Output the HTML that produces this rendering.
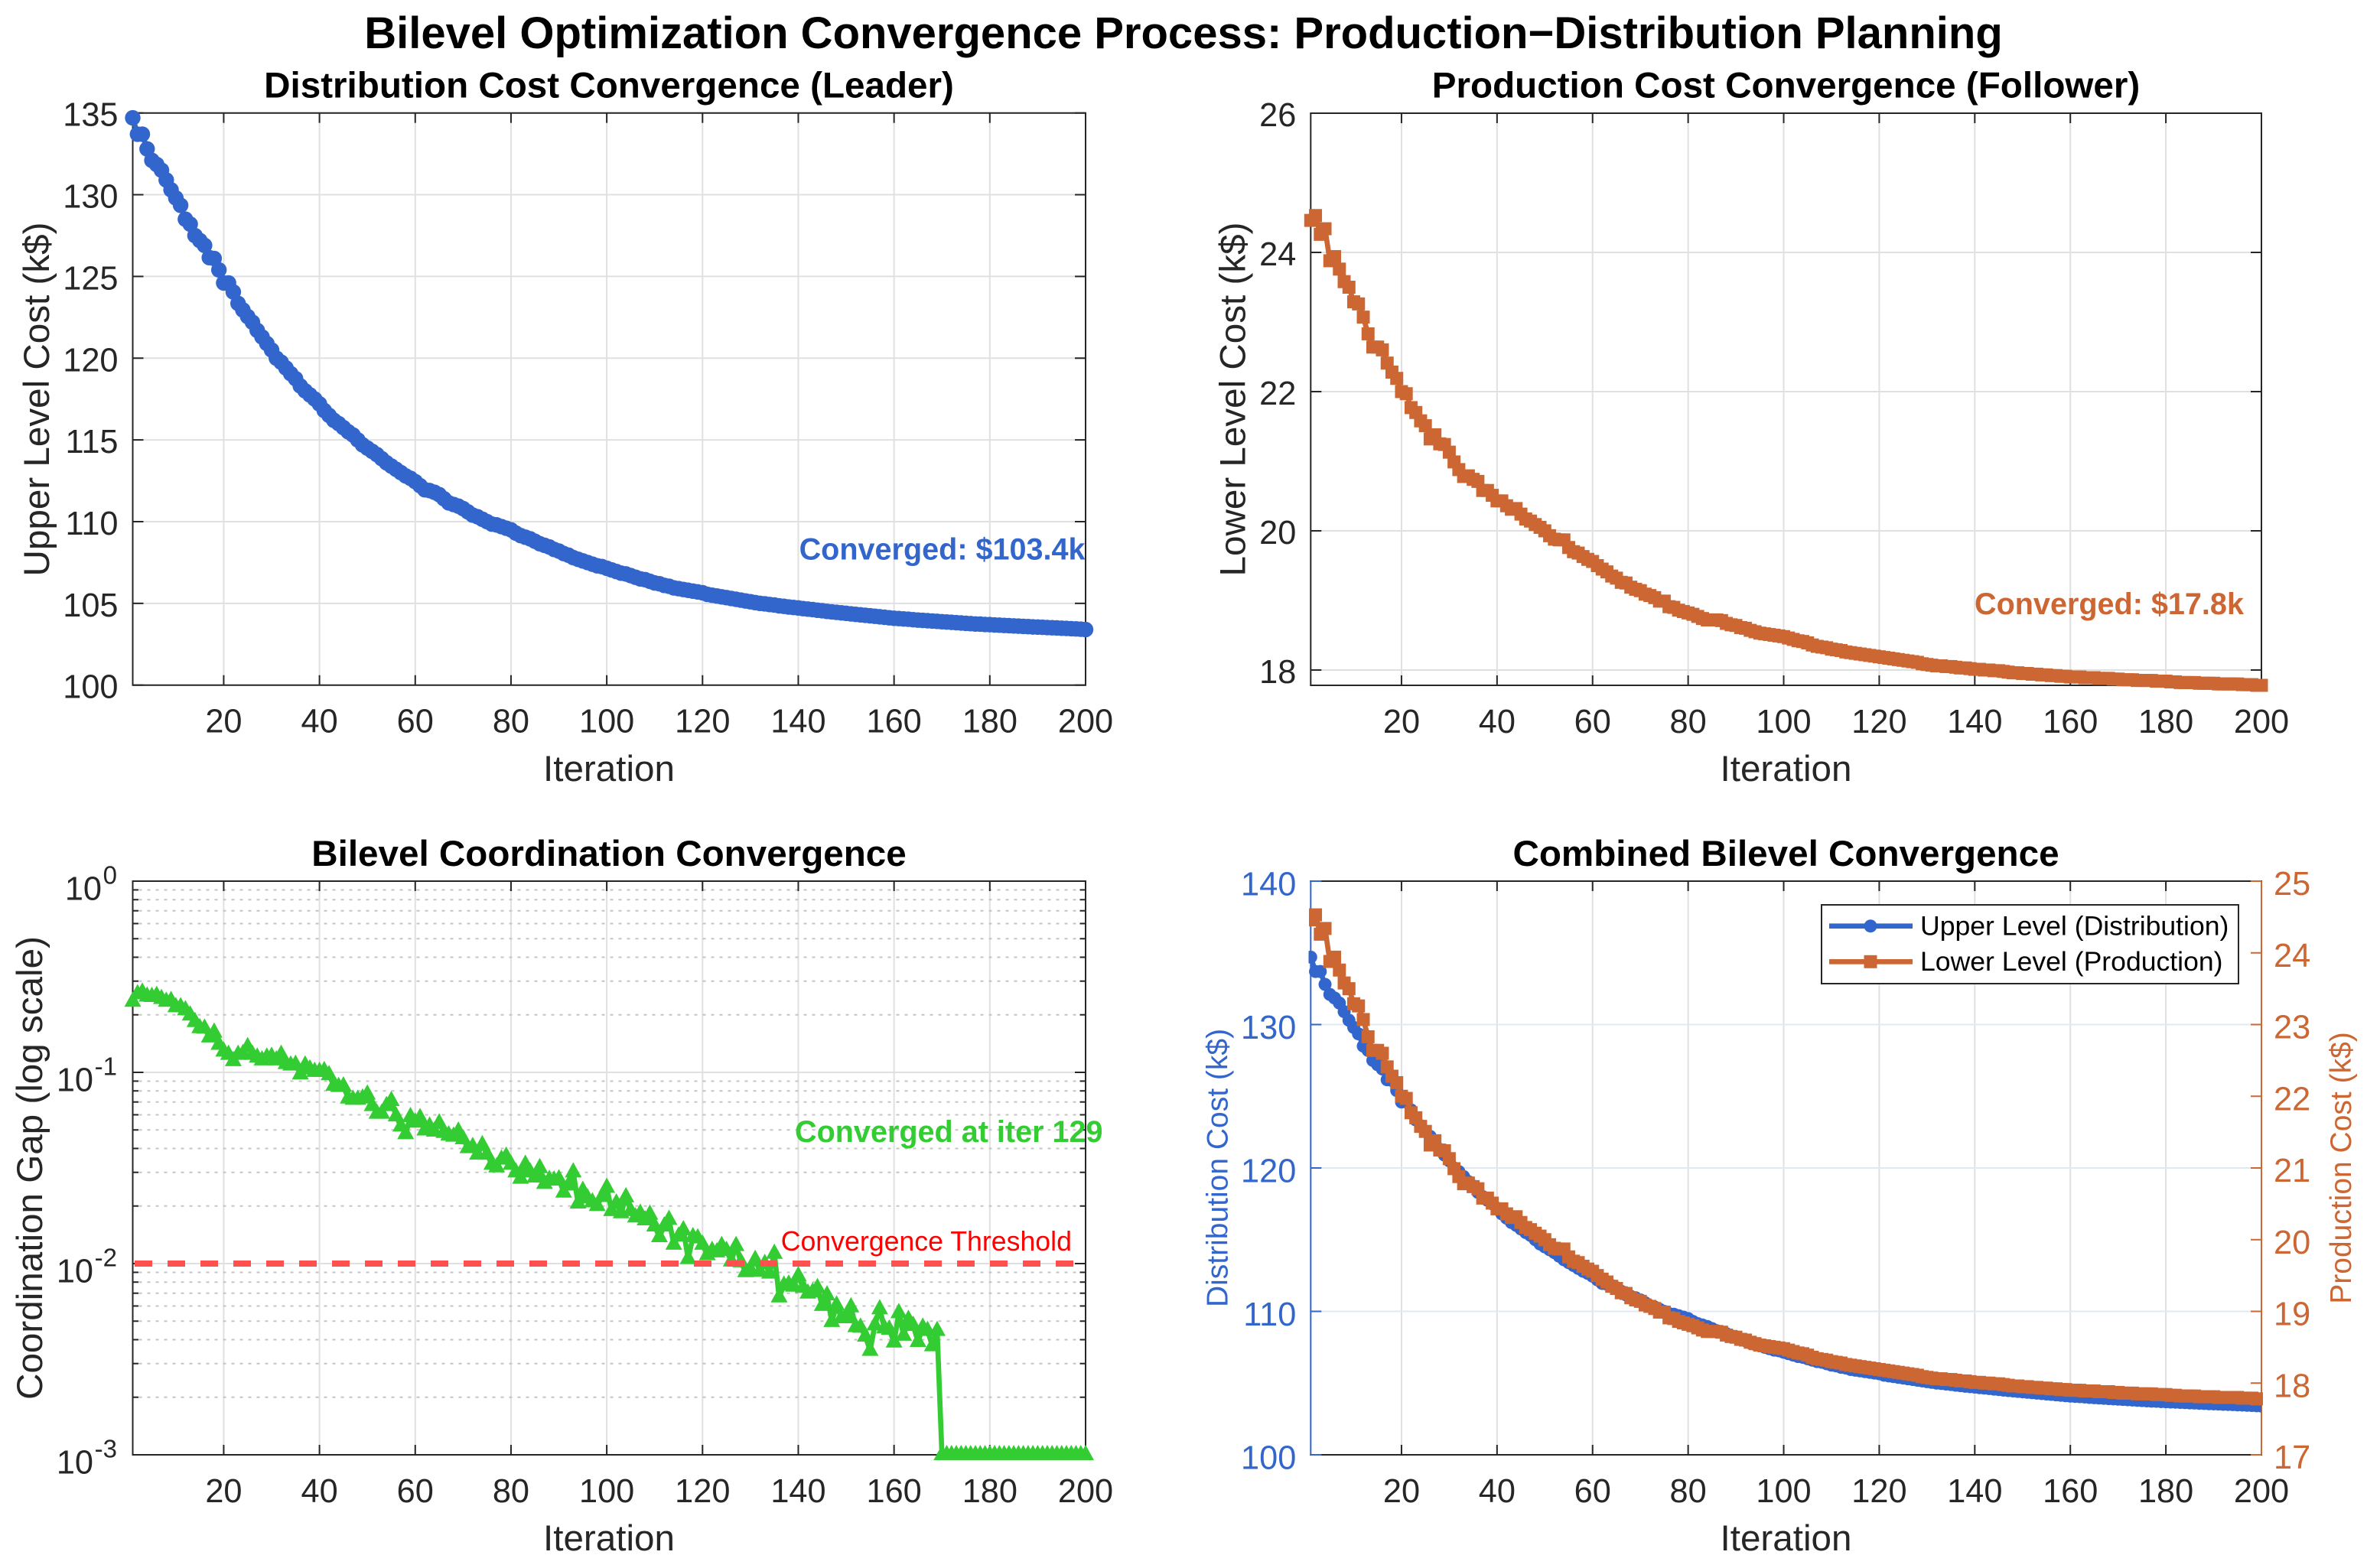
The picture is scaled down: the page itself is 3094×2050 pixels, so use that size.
<!DOCTYPE html>
<html lang="en">
<head>
<meta charset="utf-8">
<title>Bilevel Optimization Convergence Process</title>
<style>
html,body{margin:0;padding:0;background:#fff;}
svg{display:block;font-family:"Liberation Sans",Arial,sans-serif;}
text{white-space:pre;}
</style>
</head>
<body>
<svg id="chart" xmlns="http://www.w3.org/2000/svg" width="3094" height="2050" viewBox="0 0 3094 2050">
<rect x="0" y="0" width="3094" height="2050" fill="#fff"/>
<defs>
<clipPath id="clip-upper-combined"><rect x="1710.5" y="1100" width="1245.5" height="850"/></clipPath>
<clipPath id="clip-lower-combined"><rect x="1711" y="1100" width="1247" height="850"/></clipPath>
</defs>
<g id="layer"></g>
<text x="1547" y="63" font-size="58" font-weight="700" text-anchor="middle" fill="#000">Bilevel Optimization Convergence Process: Production−Distribution Planning</text>
<text x="796" y="127.5" font-size="47.6" font-weight="700" text-anchor="middle" fill="#000">Distribution Cost Convergence (Leader)</text>
<text x="2334.5" y="127.5" font-size="47.6" font-weight="700" text-anchor="middle" fill="#000">Production Cost Convergence (Follower)</text>
<text x="796" y="1132" font-size="47.6" font-weight="700" text-anchor="middle" fill="#000">Bilevel Coordination Convergence</text>
<text x="2334.5" y="1132" font-size="47.6" font-weight="700" text-anchor="middle" fill="#000">Combined Bilevel Convergence</text>
<text x="796" y="1021" font-size="47.6" text-anchor="middle" fill="#262626">Iteration</text>
<text x="2334.5" y="1021" font-size="47.6" text-anchor="middle" fill="#262626">Iteration</text>
<text x="796" y="2027" font-size="47.6" text-anchor="middle" fill="#262626">Iteration</text>
<text x="2334.5" y="2027" font-size="47.6" text-anchor="middle" fill="#262626">Iteration</text>
<text transform="translate(64,522) rotate(-90)" font-size="47.6" text-anchor="middle" fill="#262626">Upper Level Cost (k$)</text>
<text transform="translate(1627.5,522) rotate(-90)" font-size="47.6" text-anchor="middle" fill="#262626">Lower Level Cost (k$)</text>
<text transform="translate(55,1527) rotate(-90)" font-size="47.6" text-anchor="middle" fill="#262626">Coordination Gap (log scale)</text>
<text transform="translate(1604.6,1527) rotate(-90)" font-size="39" text-anchor="middle" fill="#3366cc">Distribution Cost (k$)</text>
<text transform="translate(3073,1527) rotate(-90)" font-size="39" text-anchor="middle" fill="#cc6633">Production Cost (k$)</text>
<g id="overlay"></g>
<text x="1044.6" y="731.7" font-size="39.6" font-weight="700" fill="#3366cc">Converged: $103.4k</text>
<text x="2581" y="803" font-size="39.6" font-weight="700" fill="#cc6633">Converged: $17.8k</text>
<text x="1039" y="1493" font-size="39.6" font-weight="700" fill="#33cc33">Converged at iter 129</text>
<text x="1020.7" y="1635" font-size="35.7" fill="#ff0000">Convergence Threshold</text>
<g>
<rect x="2381" y="1183" width="545" height="103" fill="#fff" stroke="#262626" stroke-width="2"/>
<line x1="2391" x2="2500" y1="1210.7" y2="1210.7" stroke="#3366cc" stroke-width="6.7"/>
<circle cx="2445" cy="1210.7" r="8.5" fill="#3366cc"/>
<text x="2510" y="1222.5" font-size="35.6" fill="#000">Upper Level (Distribution)</text>
<line x1="2391" x2="2500" y1="1257.3" y2="1257.3" stroke="#cc6633" stroke-width="6.7"/>
<rect x="2436.5" y="1248.8" width="17" height="17" fill="#cc6633"/>
<text x="2510" y="1269" font-size="35.6" fill="#000">Lower Level (Production)</text>
</g>
</svg>
<script>
const upperCost = [
134.7,133.7,133.7,132.8,132.1,131.85,131.5,130.9,130.3,129.8,
129.35,128.5,128.2,127.5,127.2,126.9,126.15,126.1,125.4,124.6,
124.6,124.05,123.35,122.95,122.55,122.2,121.7,121.3,120.9,120.5,
120.0,119.75,119.4,119.05,118.75,118.3,118.0,117.75,117.5,117.2,
116.8,116.5,116.2,116.0,115.75,115.5,115.3,115.0,114.7,114.5,
114.3,114.1,113.85,113.6,113.4,113.2,113.0,112.8,112.65,112.45,
112.2,111.95,111.9,111.8,111.65,111.4,111.15,111.05,110.95,110.8,
110.6,110.4,110.3,110.15,110.0,109.85,109.8,109.7,109.6,109.5,
109.3,109.15,109.05,108.95,108.8,108.65,108.55,108.45,108.3,108.2,
108.05,107.95,107.8,107.7,107.6,107.5,107.4,107.3,107.25,107.15,
107.05,106.95,106.85,106.8,106.7,106.6,106.5,106.45,106.35,106.25,
106.2,106.1,106.05,105.95,105.9,105.85,105.8,105.75,105.7,105.65,
105.55,105.5,105.45,105.4,105.35,105.3,105.25,105.2,105.15,105.1,
105.05,105.0,104.97,104.93,104.9,104.85,104.82,104.78,104.75,104.72,
104.68,104.65,104.62,104.58,104.55,104.51,104.48,104.45,104.42,104.39,
104.36,104.33,104.3,104.27,104.24,104.21,104.18,104.15,104.12,104.09,
104.07,104.05,104.03,104.0,103.98,103.96,103.94,103.92,103.9,103.88,
103.86,103.84,103.82,103.8,103.78,103.76,103.74,103.73,103.71,103.7,
103.68,103.67,103.65,103.64,103.62,103.61,103.59,103.58,103.56,103.55,
103.54,103.52,103.51,103.5,103.48,103.47,103.45,103.44,103.42,103.4];

const lowerCost = [
24.46,24.53,24.26,24.34,23.88,23.94,23.76,23.58,23.5,23.29,
23.26,23.07,22.83,22.64,22.64,22.6,22.41,22.28,22.19,22.0,
21.97,21.77,21.7,21.58,21.51,21.32,21.38,21.25,21.24,21.13,
20.99,20.88,20.78,20.79,20.74,20.71,20.58,20.58,20.51,20.43,
20.43,20.36,20.31,20.32,20.24,20.17,20.14,20.09,20.05,20.0,
19.93,19.88,19.87,19.87,19.76,19.7,19.68,19.63,19.59,19.56,
19.5,19.45,19.41,19.35,19.32,19.26,19.25,19.19,19.16,19.14,
19.09,19.07,19.04,18.99,18.99,18.91,18.9,18.86,18.84,18.82,
18.8,18.77,18.74,18.72,18.72,18.72,18.71,18.67,18.65,18.64,
18.61,18.6,18.57,18.55,18.53,18.52,18.51,18.5,18.49,18.48,
18.46,18.44,18.42,18.41,18.39,18.36,18.34,18.33,18.32,18.3,
18.29,18.28,18.26,18.25,18.24,18.23,18.22,18.21,18.2,18.19,
18.18,18.17,18.16,18.15,18.14,18.13,18.12,18.11,18.09,18.08,
18.07,18.06,18.06,18.05,18.05,18.04,18.03,18.03,18.02,18.01,
18.01,18.0,18.0,17.99,17.99,17.98,17.97,17.96,17.96,17.95,
17.95,17.94,17.94,17.93,17.93,17.92,17.92,17.91,17.91,17.9,
17.9,17.9,17.89,17.89,17.89,17.88,17.88,17.88,17.87,17.87,
17.86,17.86,17.86,17.85,17.85,17.85,17.85,17.84,17.84,17.84,
17.83,17.83,17.82,17.82,17.82,17.82,17.81,17.81,17.81,17.81,
17.8,17.8,17.8,17.8,17.8,17.79,17.79,17.79,17.78,17.78];

const coordinationGap = [
.235,.257,.262,.250,.249,.252,.243,.235,.237,.220,
.220,.212,.199,.184,.171,.170,.153,.162,.140,.129,
.124,.115,.124,.125,.136,.124,.120,.116,.120,.121,
.116,.124,.111,.109,.110,.098,.109,.104,.101,.101,
.102,.097,.0855,.0842,.0847,.0733,.0722,.0722,.0733,.0768,
.0669,.0610,.0610,.0669,.0711,.0591,.0523,.0477,.0586,.0548,
.0579,.0499,.0523,.0492,.0543,.0484,.0470,.0463,.0492,.0449,
.0403,.0409,.0373,.0418,.0373,.0330,.0320,.0351,.0364,.0330,
.0301,.0279,.0330,.0301,.0283,.0317,.0262,.0275,.0273,.0277,
.0236,.0257,.0301,.0207,.0241,.0220,.0210,.0201,.0224,.0250,
.0189,.0207,.0184,.0223,.0189,.0175,.0183,.0169,.0181,.0157,
.0138,.0157,.0170,.0126,.0139,.0150,.0106,.0138,.0136,.0126,
.0111,.0117,.0115,.0124,.0117,.0103,.0124,.0102,.00906,.00932,
.0105,.00909,.0100,.00890,.0113,.00668,.0077,.0078,.0076,.00863,
.0075,.0070,.0071,.00747,.00603,.00685,.00497,.00606,.0052,.0052,
.00593,.00467,.00464,.00417,.00351,.00477,.00579,.00460,.00453,.00388,
.00553,.00421,.00510,.00474,.00391,.00464,.00446,.00371,.00446,.001,
.001,.001,.001,.001,.001,.001,.001,.001,.001,.001,
.001,.001,.001,.001,.001,.001,.001,.001,.001,.001,
.001,.001,.001,.001,.001,.001,.001,.001,.001,.001];

const iterationTicks = [20,40,60,80,100,120,140,160,180,200];
const upperTicks = [100,105,110,115,120,125,130,135];
const lowerTicks = [18,20,22,24,26];
const gapDecades = [0,-1,-2,-3];
const gapMinorFactors = [2,3,4,5,6,7,8,9];
const combinedUpperTicks = [100,110,120,130,140];
const combinedLowerTicks = [17,18,19,20,21,22,23,24,25];
const convergenceThreshold = 0.01;

const NS = 'http://www.w3.org/2000/svg';
const layer = document.getElementById('layer');
const DARK = '#262626', GRID = '#e0e0e0', BLUE = '#3366cc', ORANGE = '#cc6633', GREEN = '#33cc33';

function add(parent, tag, attrs, name, text) {
  const el = document.createElementNS(NS, tag);
  for (const k in attrs) el.setAttribute(k, attrs[k]);
  
  
  if (text !== undefined) el.textContent = text;
  parent.appendChild(el);
  return el;
}
function linear(d0, d1, r0, r1) { return v => r0 + (v - d0) * (r1 - r0) / (d1 - d0); }
function logScale(d0, d1, r0, r1) { return v => r0 + (Math.log10(v) - d0) * (r1 - r0) / (d1 - d0); }
function hLine(g, x1, x2, y, color, width, name, dash) {
  const a = {x1: x1, x2: x2, y1: y, y2: y, stroke: color, 'stroke-width': width};
  if (dash) a['stroke-dasharray'] = dash;
  add(g, 'line', a, name);
}
function vLine(g, x, y1, y2, color, width, name) {
  add(g, 'line', {x1: x, x2: x, y1: y1, y2: y2, stroke: color, 'stroke-width': width}, name);
}
function xAxis(g, box, sx, prefix) {
  iterationTicks.forEach(t => {
    const x = sx(t);
    vLine(g, x, box.top, box.bottom, GRID, 2, prefix + '-x-grid-line');
  });
}
function xAxisMarks(g, box, sx, prefix) {
  iterationTicks.forEach(t => {
    const x = sx(t);
    vLine(g, x, box.bottom, box.bottom - 13, DARK, 2, prefix + '-x-tick-bottom');
    vLine(g, x, box.top, box.top + 13, DARK, 2, prefix + '-x-tick-top');
    add(g, 'text', {x: x, y: box.bottom + 62, 'font-size': 43.3, 'text-anchor': 'middle', fill: DARK}, prefix + '-x-tick-label', String(t));
  });
}
function frame(g, box, prefix) {
  hLine(g, box.left - 1, box.right + 1, box.top, DARK, 2, prefix + '-top-axis');
  hLine(g, box.left - 1, box.right + 1, box.bottom, DARK, 2, prefix + '-bottom-axis');
  vLine(g, box.left, box.top, box.bottom, DARK, 2, prefix + '-left-axis');
  vLine(g, box.right, box.top, box.bottom, DARK, 2, prefix + '-right-axis');
}
function yLinearAxis(g, box, sy, ticks, prefix) {
  ticks.forEach(t => {
    const y = sy(t);
    hLine(g, box.left, box.left + 14, y, DARK, 2, prefix + '-y-tick-left');
    hLine(g, box.right - 14, box.right, y, DARK, 2, prefix + '-y-tick-right');
    add(g, 'text', {x: box.left - 19, y: y + 17, 'font-size': 43.3, 'text-anchor': 'end', fill: DARK}, prefix + '-y-tick-label', String(t));
  });
}
function yGrid(g, box, sy, ticks, color, prefix) {
  ticks.forEach(t => hLine(g, box.left, box.right, sy(t), color, 2, prefix + '-y-grid-line'));
}
function line(g, pts, color, width, name, clip) {
  const a = {points: pts.map(p => p[0].toFixed(2) + ',' + p[1].toFixed(2)).join(' '), fill: 'none', stroke: color, 'stroke-width': width, 'stroke-linejoin': 'round'};
  if (clip) a['clip-path'] = clip;
  add(g, 'polyline', a, name);
}
function circles(g, pts, r, color, name) {
  pts.forEach(p => add(g, 'circle', {cx: p[0].toFixed(2), cy: p[1].toFixed(2), r: r, fill: color}, name));
}
function squares(g, pts, s, color, name) {
  pts.forEach(p => add(g, 'rect', {x: (p[0] - s / 2).toFixed(2), y: (p[1] - s / 2).toFixed(2), width: s, height: s, fill: color}, name));
}
function triangles(g, pts, color, name) {
  pts.forEach(p => add(g, 'polygon', {
    points: p[0].toFixed(2) + ',' + (p[1] - 13).toFixed(2) + ' ' +
            (p[0] - 11).toFixed(2) + ',' + (p[1] + 7).toFixed(2) + ' ' +
            (p[0] + 11).toFixed(2) + ',' + (p[1] + 7).toFixed(2),
    fill: color}, name));
}
function toPoints(series, sx, sy) { return series.map((v, i) => [sx(i + 1), sy(v)]); }

/* Panel 1: distribution cost */
(function () {
  const box = {left: 173.5, right: 1419, top: 147.7, bottom: 895.7};
  const sx = linear(1, 200, box.left, box.right);
  const sy = linear(100, 135, box.bottom, box.top);
  const g = add(layer, 'g', {}, 'distribution-cost-panel');
  xAxis(g, box, sx, 'distribution');
  yGrid(g, box, sy, upperTicks, GRID, 'distribution');
  frame(g, box, 'distribution');
  xAxisMarks(g, box, sx, 'distribution');
  yLinearAxis(g, box, sy, upperTicks, 'distribution');
  const pts = toPoints(upperCost, sx, sy);
  line(g, pts, BLUE, 6.7, 'upper-cost-line');
  circles(g, pts, 10.2, BLUE, 'upper-cost-marker');
})();

/* Panel 2: production cost */
(function () {
  const box = {left: 1713.3, right: 2956, top: 148, bottom: 896};
  const sx = linear(1, 200, box.left, box.right);
  const sy = linear(17.78, 26, box.bottom, box.top);
  const g = add(layer, 'g', {}, 'production-cost-panel');
  xAxis(g, box, sx, 'production');
  yGrid(g, box, sy, lowerTicks, GRID, 'production');
  frame(g, box, 'production');
  xAxisMarks(g, box, sx, 'production');
  yLinearAxis(g, box, sy, lowerTicks, 'production');
  const pts = toPoints(lowerCost, sx, sy);
  line(g, pts, ORANGE, 6.7, 'lower-cost-line');
  squares(g, pts, 17, ORANGE, 'lower-cost-marker');
})();

/* Panel 3: coordination gap (log) */
(function () {
  const box = {left: 173.5, right: 1419, top: 1152, bottom: 1902};
  const sx = linear(1, 200, box.left, box.right);
  const sy = logScale(-3, 0, box.bottom, box.top);
  const g = add(layer, 'g', {}, 'coordination-gap-panel');
  xAxis(g, box, sx, 'coordination');
  gapDecades.forEach(d => {
    hLine(g, box.left, box.right, sy(Math.pow(10, d)), GRID, 2, 'coordination-major-grid-line');
    if (d > -1 - 2) {
      gapMinorFactors.forEach(f => {
        hLine(g, box.left + 8, box.right - 8, sy(f * Math.pow(10, d - 1)), '#c4c4c4', 2, 'coordination-minor-grid-line', '4 7');
      });
    }
  });
  frame(g, box, 'coordination');
  xAxisMarks(g, box, sx, 'coordination');
  gapDecades.forEach(d => {
    const y = sy(Math.pow(10, d));
    hLine(g, box.left, box.left + 14, y, DARK, 2, 'coordination-y-tick-left');
    hLine(g, box.right - 14, box.right, y, DARK, 2, 'coordination-y-tick-right');
    add(g, 'text', {x: d === 0 ? 133 : (d === -1 ? 122 : 122), y: y + 24.5, 'font-size': 43.3, 'text-anchor': 'end', fill: DARK}, 'coordination-y-tick-base', '10');
    add(g, 'text', {x: 153, y: y + 3.5, 'font-size': 33, 'text-anchor': 'end', fill: DARK}, 'coordination-y-tick-exponent', String(d));
    if (d > -3) {
      gapMinorFactors.forEach(f => {
        const ym = sy(f * Math.pow(10, d - 1));
        hLine(g, box.left, box.left + 7.5, ym, DARK, 2, 'coordination-minor-tick-left');
        hLine(g, box.right - 7.5, box.right, ym, DARK, 2, 'coordination-minor-tick-right');
      });
    }
  });
  const pts = toPoints(coordinationGap, sx, sy);
  line(g, pts, GREEN, 6.7, 'coordination-gap-line');
  triangles(g, pts, GREEN, 'coordination-gap-marker');
  add(g, 'line', {x1: sx(1), x2: sx(200), y1: sy(convergenceThreshold), y2: sy(convergenceThreshold), stroke: '#ff5050', 'stroke-width': 8, 'stroke-dasharray': '23 20', 'stroke-dashoffset': -2.5}, 'convergence-threshold-line');
})();

/* Panel 4: combined */
(function () {
  const box = {left: 1713.3, right: 2956, top: 1152, bottom: 1902};
  const sx = linear(1, 200, box.left, box.right);
  const sL = linear(100, 140, box.bottom, box.top);
  const sR = linear(17, 25, box.bottom, box.top);
  const g = add(layer, 'g', {}, 'combined-panel');
  xAxis(g, box, sx, 'combined');
  yGrid(g, box, sL, combinedUpperTicks, '#e0e8f7', 'combined');
  hLine(g, box.left - 1, box.right + 1, box.top, DARK, 2, 'combined-top-axis');
  hLine(g, box.left - 1, box.right + 1, box.bottom, DARK, 2, 'combined-bottom-axis');
  xAxisMarks(g, box, sx, 'combined');
  vLine(g, box.left, box.top, box.bottom, BLUE, 2, 'combined-left-axis');
  vLine(g, box.right, box.top, box.bottom, ORANGE, 2, 'combined-right-axis');
  combinedUpperTicks.forEach(t => {
    const y = sL(t);
    hLine(g, box.left, box.left + 14, y, BLUE, 2, 'combined-left-y-tick');
    add(g, 'text', {x: box.left - 19, y: y + 18.5, 'font-size': 43.3, 'text-anchor': 'end', fill: BLUE}, 'combined-left-y-tick-label', String(t));
  });
  combinedLowerTicks.forEach(t => {
    const y = sR(t);
    hLine(g, box.right - 14, box.right, y, ORANGE, 2, 'combined-right-y-tick');
    add(g, 'text', {x: box.right + 16, y: y + 18, 'font-size': 43.3, 'text-anchor': 'start', fill: ORANGE}, 'combined-right-y-tick-label', String(t));
  });
  const up = toPoints(upperCost, sx, sL);
  const gu = add(g, 'g', {'clip-path': 'url(#clip-upper-combined)'}, 'combined-upper-series');
  line(gu, up, BLUE, 6.7, 'combined-upper-line');
  circles(gu, up, 8.5, BLUE, 'combined-upper-marker');
  const lo = toPoints(lowerCost, sx, sR);
  const gl = add(g, 'g', {'clip-path': 'url(#clip-lower-combined)'}, 'combined-lower-series');
  line(gl, lo, ORANGE, 6.7, 'combined-lower-line');
  squares(gl, lo, 17, ORANGE, 'combined-lower-marker');
})();
</script>
</body>
</html>
